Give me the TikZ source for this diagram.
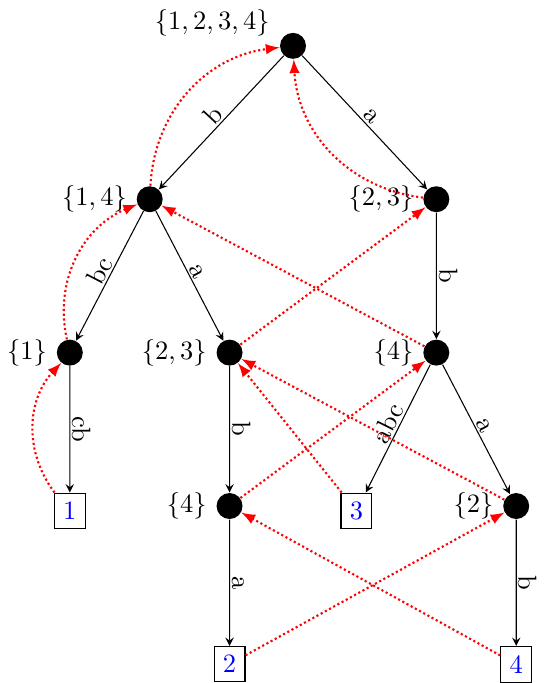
\documentclass[tikz,border=0pt]{standalone}
\usepackage{tikz}

\begin{document}
\begin{tikzpicture}[
        level distance=52.8pt,
        level 1/.style={sibling distance=108.2pt},
        level 2/.style={sibling distance=60.3pt},
        level 3/.style={sibling distance=60.3pt},
        every child node/.style={anchor=north},
        edge from parent/.style={draw, -stealth},
        state/.style={shape=circle, fill, minimum size=9.8pt, inner sep=0pt},
        leaf/.style={shape=rectangle, draw, text=blue},
        elabel/.style={above, sloped, inner sep=0.7pt},
        link/.style={red, thick, densely dotted, -latex}]
      \useasboundingbox (-110.6pt,12.2pt) rectangle (96.2pt,-245.6pt);
      \node[state, anchor=north, label={[xshift=-1.7pt, yshift=-3.6pt]above left:{$\{1,2,3,4\}$}}] (r) {}
        child {node[state, label={left:{$\{1,4\}$}}] (n14) {}
          child {node[state, label={left:{$\{1\}$}}] (n1) {}
            child {node[leaf] (l1) {1}
              edge from parent node[elabel] {cb}}
            edge from parent node[elabel] {bc}}
          child {node[state, label={left:{$\{2,3\}$}}] (m23) {}
            child {node[state, label={left:{$\{4\}$}}] (m4) {}
              child {node[leaf] (l2) {2}
                edge from parent node[elabel] {a}}
              edge from parent node[elabel] {b}}
            edge from parent node[elabel] {a}}
          edge from parent node[elabel] {b}}
        child {node[state, label={left:{$\{2,3\}$}}] (n23) {}
          child {node[state, label={left:{$\{4\}$}}] (n4) {}
            child {node[leaf] (l3) {3}
              edge from parent node[elabel] {abc}}
            child {node[state, label={left:{$\{2\}$}}] (n2) {}
              child {node[leaf] (l4) {4}
                edge from parent node[elabel] {b}}
              edge from parent node[elabel] {a}}
            edge from parent node[elabel] {b}}
          edge from parent node[elabel] {a}};
      % suffix links
      \draw[link] (n14) to[bend left=40] (r);
      \draw[link] (n23) to[bend left=40] (r);
      \draw[link] (n1) to[bend left=40] (n14);
      \draw[link] (l1) to[bend left=40] (n1);
      \draw[link] (m23) -- (n23);
      \draw[link] (n4) -- (n14);
      \draw[link] (m4) -- (n4);
      \draw[link] (l3) -- (m23);
      \draw[link] (n2) -- (m23);
      \draw[link] (l2) -- (n2);
      \draw[link] (l4) -- (m4);
\end{tikzpicture}
\end{document}
